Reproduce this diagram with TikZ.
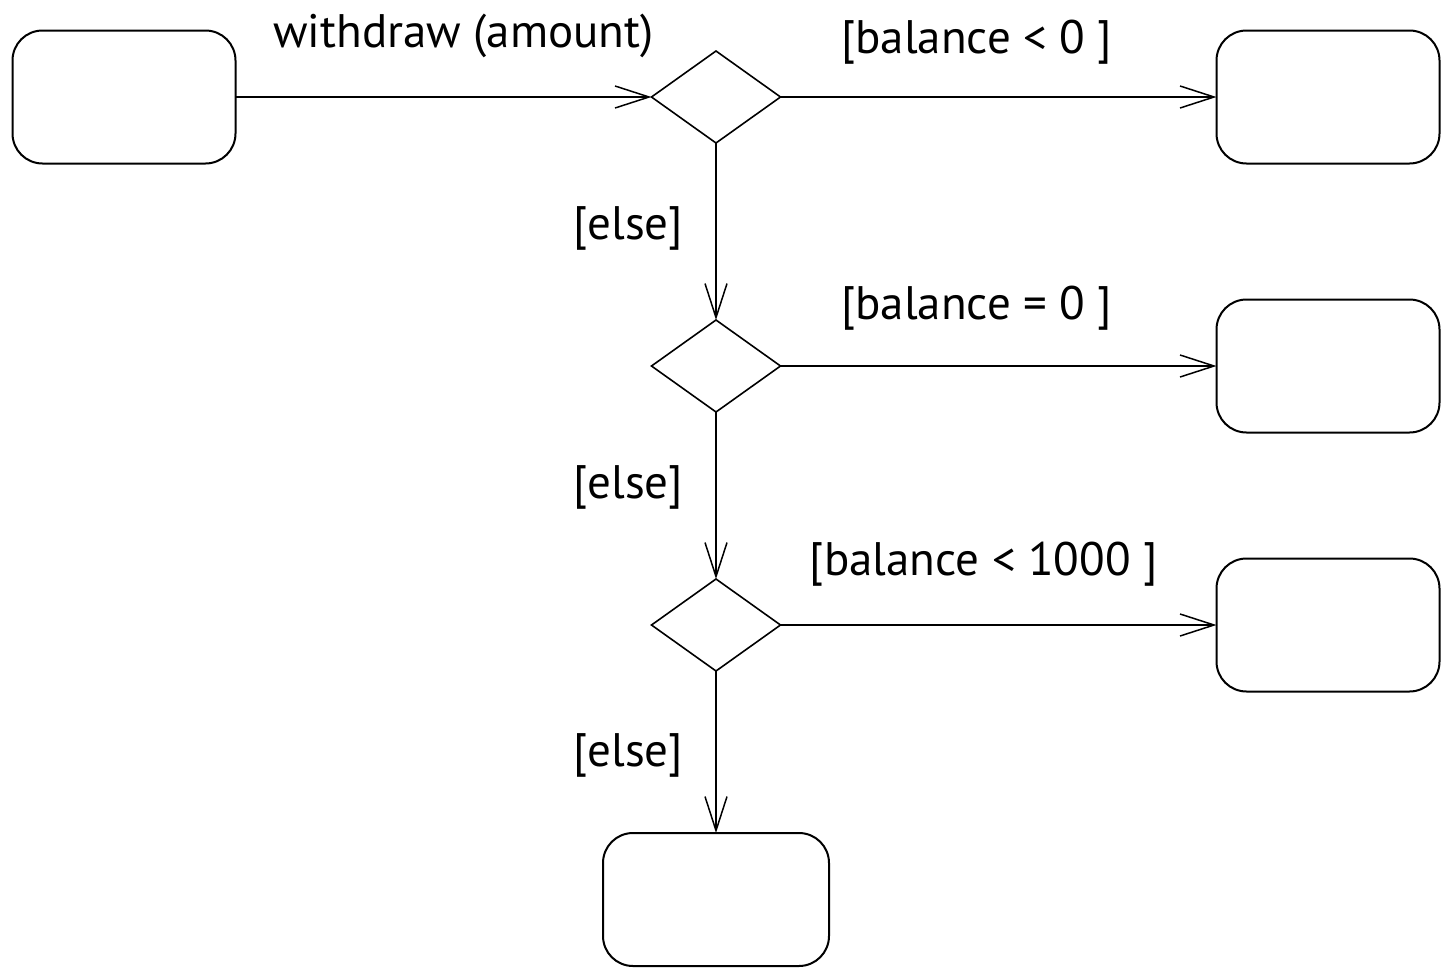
\documentclass[tikz,border=0pt]{standalone}
\usepackage{fontspec}
\setmainfont{PT Sans}
\usetikzlibrary{positioning,shapes.geometric,arrows.meta}

\tikzset{
  stbox/.style={draw, rectangle, rounded corners=30pt, minimum width=223pt,
    minimum height=133pt, inner sep=0pt, outer sep=0pt, line width=2pt},
  dec/.style={draw, diamond, minimum width=129pt, minimum height=92pt,
    inner sep=0pt, outer sep=0pt, line width=1.6pt},
  flow/.style={line width=1.8pt,
    -{Straight Barb[length=34pt,width=22pt,line width=1.5pt]}},
  guard/.style={font=\fontsize{47}{55}\selectfont, inner sep=0pt}
}

\begin{document}
\begin{tikzpicture}[x=1pt,y=1pt]
  \useasboundingbox (0,0) rectangle (1441,-967);

  % Define nodes
  \node[dec]                         (d1) at (716,-97) {};
  \node[stbox, left=416pt of d1]     (s0) {};
  \node[stbox, right=436pt of d1]    (r1) {};
  \node[dec, below=177pt of d1]      (d2) {};
  \node[stbox, right=436pt of d2]    (r2) {};
  \node[dec, below=167pt of d2]      (d3) {};
  \node[stbox, right=436pt of d3]    (r3) {};
  \node[stbox, minimum width=226pt, below=162pt of d3] (s4) {};

  % Connect the nodes
  \draw[flow] (s0) -- node[guard, pos=0.548, anchor=base, yshift=50pt] (g0) {withdraw (amount)} (d1);
  \draw[flow] (d1) -- node[guard, pos=0.45, anchor=base, yshift=44pt] (g1) {[balance < 0 ]} (r1);
  \draw[flow] (d2) -- node[guard, pos=0.45, anchor=base, yshift=47pt] (g2) {[balance = 0 ]} (r2);
  \draw[flow] (d3) -- node[guard, pos=0.466, anchor=base, yshift=50pt] (g3) {[balance < 1000 ]} (r3);

  \draw[flow] (d1) -- node[guard, pos=0.545, anchor=base east, xshift=-32pt] (e1) {[else]} (d2);
  \draw[flow] (d2) -- node[guard, pos=0.52, anchor=base east, xshift=-32pt] (e2) {[else]} (d3);
  \draw[flow] (d3) -- node[guard, pos=0.59, anchor=base east, xshift=-32pt] (e3) {[else]} (s4);

\end{tikzpicture}
\end{document}
